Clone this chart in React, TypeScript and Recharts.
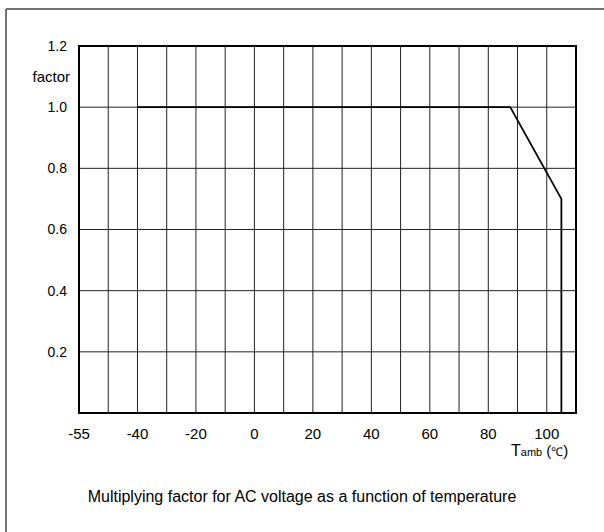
import { LineChart, Line, XAxis, YAxis, CartesianGrid, ReferenceLine, ReferenceArea } from 'recharts';

// derating curve: ambient temperature (°C) -> multiplying factor
const TEMPS = [-40, 87.5, 105, 105];
const FACTORS = [1.0, 1.0, 0.7, 0];

const X_TICKS = [-60, -50, -40, -30, -20, -10, 0, 10, 20, 30, 40, 50, 60, 70, 80, 90, 100, 110];
const X_LABELS = ['-55', '', '-40', '', '-20', '', '0', '', '20', '', '40', '', '60', '', '80', '', '100', ''];
const Y_TICKS = [0, 0.2, 0.4, 0.6, 0.8, 1.0, 1.2];
const Y_LABELS = ['', '0.2', '0.4', '0.6', '0.8', '1.0', '1.2'];

const Y_UNIT = 'factor';
const Y_UNIT_AT = 1.1;
const TITLE = 'Multiplying factor for AC voltage as a function of temperature';

const FONT = '"Liberation Sans", Arial, sans-serif';

export default function App() {
  const data = TEMPS.map((t, i) => ({ t, f: FACTORS[i] }));

  return (
    <div style={{ position: 'fixed', left: 0, top: 0, width: 604, height: 532, background: '#fff', fontFamily: FONT }}>
      <svg width={604} height={532} style={{ position: 'absolute', left: 0, top: 0 }}>
        <line x1={6} y1={9} x2={604} y2={9} stroke="#444" strokeWidth={1.5} />
        <line x1={6} y1={9} x2={6} y2={532} stroke="#444" strokeWidth={1.5} />
      </svg>
      <div style={{ position: 'absolute', left: 0, top: 0 }}>
        <LineChart width={604} height={532} data={data} margin={{ top: 46, right: 28, bottom: 89, left: 0 }}>
          <CartesianGrid stroke="#222" strokeWidth={1} />
          <XAxis
            type="number"
            dataKey="t"
            domain={[-60, 110]}
            ticks={X_TICKS}
            interval={0}
            height={30}
            tickFormatter={(v: number) => X_LABELS[X_TICKS.indexOf(v)] ?? ''}
            tick={{ fontSize: 15, fill: '#000', fontFamily: FONT }}
            axisLine={false}
            tickLine={false}
            tickSize={6}
            tickMargin={9}
            allowDataOverflow
          />
          <YAxis
            type="number"
            domain={[0, 1.2]}
            ticks={Y_TICKS}
            interval={0}
            width={79}
            tickFormatter={(v: number) => Y_LABELS[Y_TICKS.indexOf(v)] ?? ''}
            tick={{ fontSize: 14, fill: '#000', fontFamily: FONT }}
            axisLine={false}
            tickLine={false}
            tickSize={6}
            tickMargin={6}
            allowDataOverflow
          />
          <ReferenceArea x1={-60} x2={110} y1={0} y2={1.2} fill="none" fillOpacity={0} stroke="#000" strokeWidth={2} />
          <ReferenceLine
            y={Y_UNIT_AT}
            stroke="none"
            label={{ value: Y_UNIT, position: 'left', offset: 9, fill: '#000', fontSize: 15, fontFamily: FONT }}
          />
          <Line
            type="linear"
            dataKey="f"
            stroke="#000"
            strokeWidth={1.8}
            dot={false}
            activeDot={false}
            isAnimationActive={false}
          />
        </LineChart>
      </div>
      <svg width={604} height={532} style={{ position: 'absolute', left: 0, top: 0, pointerEvents: 'none' }}>
        <text x={511} y={456} fontSize={16} fill="#000" fontFamily={FONT}>
          T<tspan fontSize={11}>amb</tspan>
          <tspan fontSize={15}> (</tspan>
          <tspan fontSize={12}>℃</tspan>
          <tspan fontSize={15}>)</tspan>
        </text>
        <text x={302} y={502} fontSize={16} fill="#000" fontFamily={FONT} textAnchor="middle">
          {TITLE}
        </text>
      </svg>
    </div>
  );
}
